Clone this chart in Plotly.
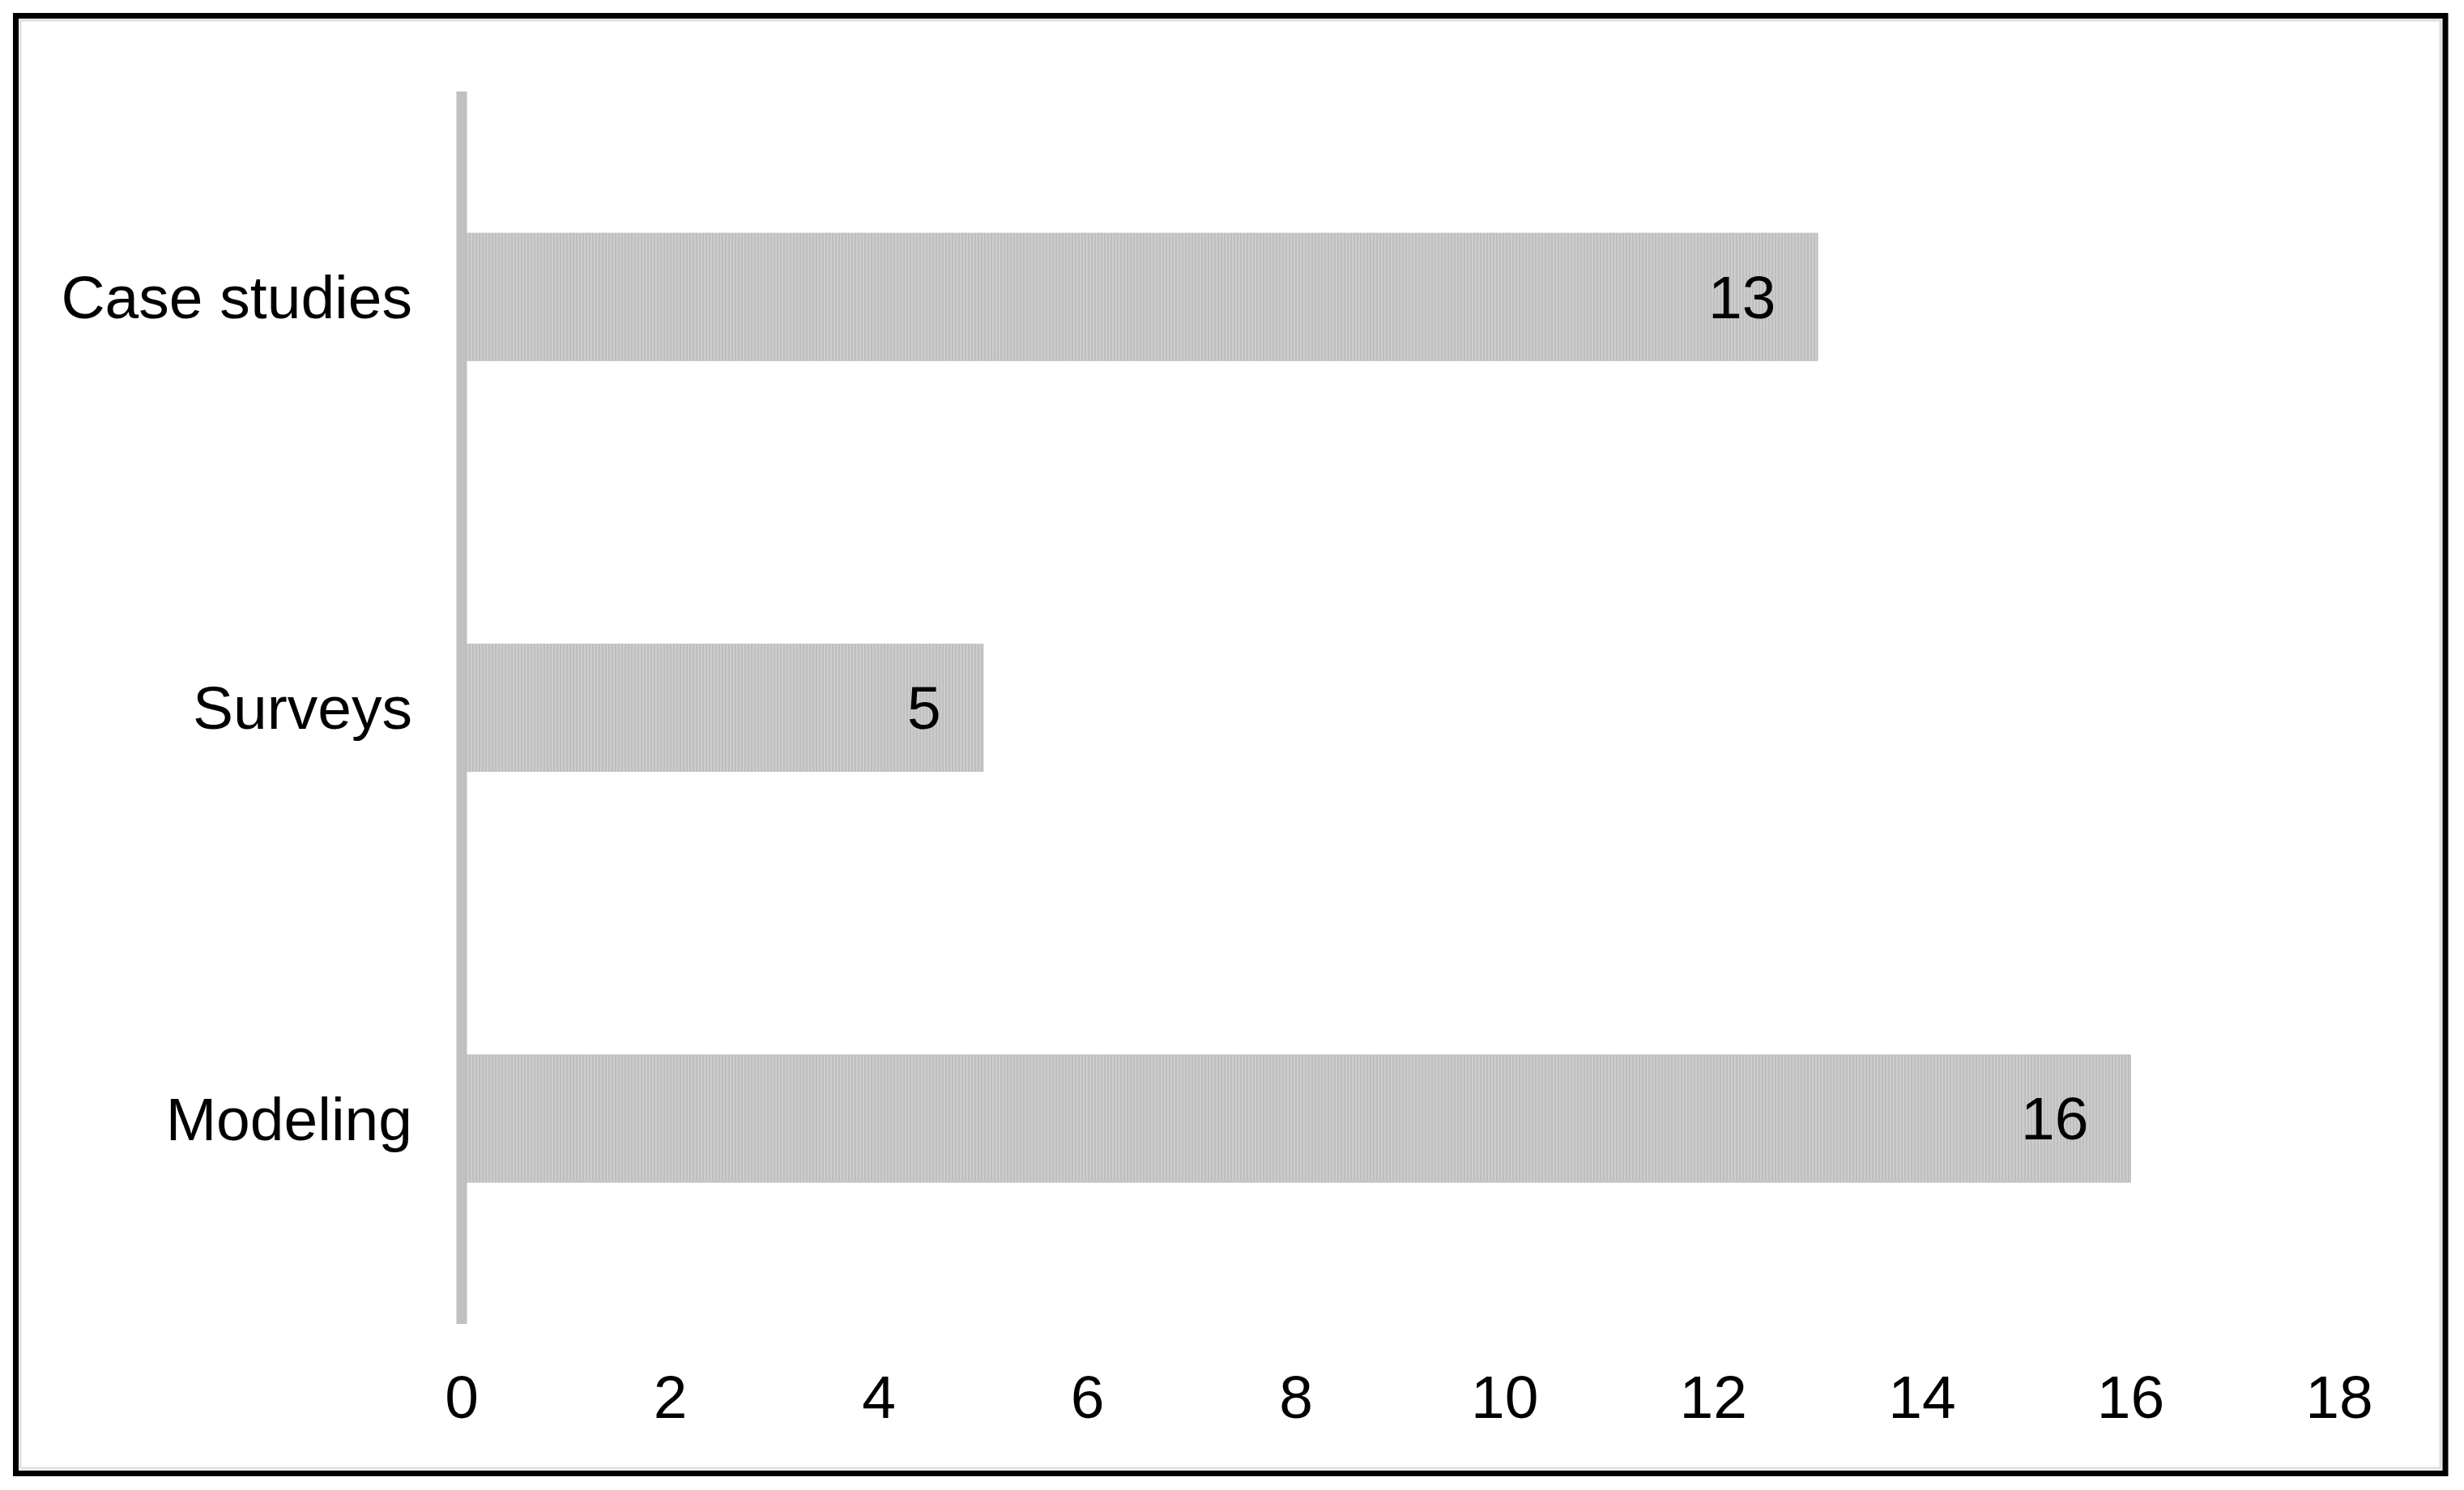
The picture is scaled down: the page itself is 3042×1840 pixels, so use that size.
#!/usr/bin/env python3
"""Horizontal bar chart: number of studies by research method."""

import plotly.graph_objects as go

# Data (top to bottom as drawn)
categories = ["Case studies", "Surveys", "Modeling"]
counts = [13, 5, 16]
x_ticks = [0, 2, 4, 6, 8, 10, 12, 14, 16, 18]

# Canvas and plot area (pixels)
W, H = 3042, 1840
L, R, T, B = 570, 154, 113, 205
plot_w = W - L - R
plot_h = H - T - B

FONT = "Liberation Sans, Arial, sans-serif"
FS = 75


def px_x(p):
    return (p - L) / plot_w


def px_y(p):
    return (H - B - p) / plot_h


fig = go.Figure()
fig.add_trace(go.Bar(
    x=counts,
    y=categories,
    orientation="h",
    marker=dict(
        color="#c6c6c6",
        pattern=dict(shape="|", fgcolor="#a8a8a8", bgcolor="#cdcdcd", size=4, solidity=0.4),
        line=dict(color="#c0c0c0", width=1),
    ),
    hoverinfo="x+y",
))

# value labels just inside the end of each bar
for cat, val in zip(categories, counts):
    fig.add_annotation(
        x=val, y=cat, text=str(val), showarrow=False,
        xanchor="right", yanchor="middle", xshift=-50,
        font=dict(family=FONT, size=FS, color="black"),
    )

fig.update_layout(
    width=W, height=H,
    margin=dict(l=L, r=R, t=T, b=B),
    paper_bgcolor="white",
    plot_bgcolor="white",
    showlegend=False,
    bargap=0.69,
    font=dict(family=FONT, size=FS, color="black"),
    shapes=[
        # vertical axis line at x = 0 (paper x 0 == data x 0, unclipped)
        dict(type="line", xref="paper", yref="paper", x0=0, x1=0, y0=0, y1=1,
             line=dict(color="#c0c0c0", width=13), layer="above"),
        # light inner frame
        dict(type="rect", xref="paper", yref="paper",
             x0=px_x(25), x1=px_x(3013), y0=px_y(25), y1=px_y(1813),
             line=dict(color="#dedede", width=3), fillcolor="rgba(0,0,0,0)", layer="above"),
        # black outer frame
        dict(type="rect", xref="paper", yref="paper",
             x0=px_x(19.5), x1=px_x(3019), y0=px_y(19.5), y1=px_y(1819.5),
             line=dict(color="black", width=7), fillcolor="rgba(0,0,0,0)", layer="above"),
    ],
)

fig.update_xaxes(
    range=[0, 18],
    tickvals=x_ticks,
    showgrid=False,
    zeroline=False,
    showline=False,
    ticks="",
    ticklabelstandoff=40,
    tickfont=dict(family=FONT, size=FS, color="black"),
)
fig.update_yaxes(
    autorange="reversed",
    showgrid=False,
    zeroline=False,
    showline=False,
    ticks="",
    ticklabelstandoff=60,
    tickfont=dict(family=FONT, size=FS, color="black"),
)

# drop the browser's default page margin so the figure sits at (0, 0)
fig.write_html(
    "out.html",
    config={"displayModeBar": False},
    post_script="document.body.style.margin='0';document.body.style.overflow='hidden';",
)
